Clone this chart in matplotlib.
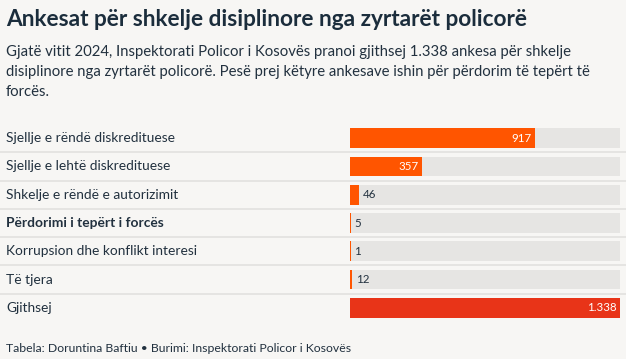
import matplotlib.pyplot as plt
import numpy as np
from matplotlib.transforms import blended_transform_factory

categories = [
    "Sjellje e rëndë diskredituese",
    "Sjellje e lehtë diskredituese",
    "Shkelje e rëndë e autorizimit",
    "Përdorimi i tepërt i forcës",
    "Korrupsion dhe konflikt interesi",
    "Të tjera",
    "Gjithsej",
]
values = [917, 357, 46, 5, 1, 12, 1338]
value_labels = ["917", "357", "46", "5", "1", "12", "1.338"]
bold_rows = [3]
total_row = 6

BG = "#f7f6f4"
ORANGE = "#ff5500"
RED = "#e83418"
TRACK = "#e6e5e3"
SEP = "#e2e1df"
DARK = "#1b2d3c"
TEXT = "#22313f"
FONT = "Lato"

W, H = 626, 359
fig = plt.figure(figsize=(W / 100, H / 100), dpi=100, facecolor=BG)

# bar area in pixels
x0, x1 = 350, 620
top, bottom = 124, 322
ax = fig.add_axes([x0 / W, 1 - bottom / H, (x1 - x0) / W, (bottom - top) / H])
ax.set_facecolor(BG)
ax.set_xlim(0, max(values))
ax.set_ylim(len(values) - 0.5, -0.5)
ax.axis("off")

ypos = np.arange(len(values))
vmax = max(values)
ax.barh(ypos, [vmax] * len(values), height=0.7, color=TRACK, linewidth=0)
colors = [RED if i == total_row else ORANGE for i in ypos]
shown = np.maximum(values, 4)  # keep tiny bars visible
ax.barh(ypos, shown, height=0.7, color=colors, linewidth=0)

trans = blended_transform_factory(fig.transFigure, ax.transData)
for i, (cat, v, lab) in enumerate(zip(categories, values, value_labels)):
    ax.text(6 / W, i, cat, transform=trans, ha="left", va="center",
            fontsize=9.9, color=TEXT, family=FONT,
            fontweight="bold" if i in bold_rows else "normal")
    if v / vmax > 0.2:
        ax.text(v - vmax * 0.012, i, lab, ha="right", va="center",
                fontsize=8.3, color="white", family=FONT)
    else:
        ax.text(shown[i] + vmax * 0.012, i, lab, ha="left", va="center",
                fontsize=8.3, color=TEXT, family=FONT)

for y in ypos[:-1] + 0.5:
    ax.plot([0, 1], [y, y], transform=trans, color=SEP, lw=1.2, clip_on=False)

fig.text(6 / W, 1 - 20 / H, "Ankesat për shkelje disiplinore nga zyrtarët policorë",
         ha="left", va="center", fontsize=16.3, fontweight="bold", color=DARK, family=FONT)
fig.text(6 / W, 1 - 45 / H,
         "Gjatë vitit 2024, Inspektorati Policor i Kosovës pranoi gjithsej 1.338 ankesa për shkelje\n"
         "disiplinore nga zyrtarët policorë. Pesë prej këtyre ankesave ishin për përdorim të tepërt të\n"
         "forcës.",
         ha="left", va="top", fontsize=10.7, color=TEXT, family=FONT, linespacing=1.56)
fig.text(6 / W, 1 - 348 / H, "Tabela: Doruntina Baftiu • Burimi: Inspektorati Policor i Kosovës",
         ha="left", va="center", fontsize=8.85, color=TEXT, family=FONT)

fig.savefig("out.png", dpi=100, facecolor=BG)
